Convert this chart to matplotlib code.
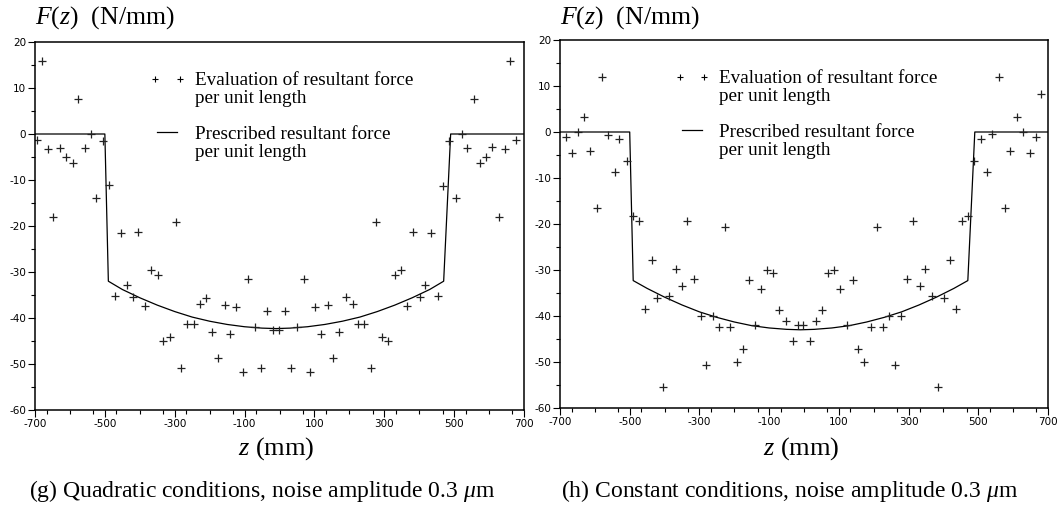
import matplotlib
matplotlib.use("Agg")
import numpy as np
import matplotlib.pyplot as plt
from matplotlib.ticker import MultipleLocator, FixedLocator
from matplotlib.lines import Line2D
from matplotlib.legend_handler import HandlerLine2D

plt.rcParams['axes.unicode_minus'] = False
plt.rcParams['mathtext.fontset'] = 'custom'
plt.rcParams['mathtext.rm'] = 'Liberation Serif'
plt.rcParams['mathtext.it'] = 'Liberation Serif:italic'

# ---- (g) quadratic conditions: evaluated points (z in mm, F in N/mm)
z_quad = [-695, -681, -662, -648, -629, -611, -592, -578, -557, -541, -526, -505,
          -488, -471, -455, -438, -419, -404, -386, -367, -348, -333, -314, -297,
          -281, -265, -246, -227, -211, -193, -175, -156, -141, -124, -104, -91,
          -71, -52, -36, -19, -2, 17, 33, 50, 69, 88, 102, 120, 139, 154, 171,
          190, 209, 224, 243, 261, 275, 294, 312, 330, 347, 364, 383, 401, 416,
          434, 453, 469, 486, 505, 522, 538, 557, 573, 590, 609, 627, 646, 659, 678]
f_quad = [-1.2, 15.9, -3.3, -18.0, -3.0, -5.0, -6.4, 7.7, -3.1, 0.0, -14.0, -1.5,
          -11.1, -35.3, -21.5, -32.9, -35.5, -21.2, -37.4, -29.6, -30.6, -45.1, -44.1, -19.1,
          -50.9, -41.3, -41.3, -36.9, -35.7, -43.0, -48.6, -37.1, -43.5, -37.6, -51.8, -31.6,
          -42.0, -50.9, -38.5, -42.6, -42.6, -38.5, -50.9, -42.0, -31.6, -51.8, -37.6, -43.5, -37.1, -48.6, -43.0,
          -35.5, -36.9, -41.3, -41.3, -50.9, -19.1, -44.1, -45.1, -30.6, -29.6, -37.4, -21.2, -35.5, -32.9,
          -21.5, -35.3, -11.3, -1.5, -14.0, 0.0, -3.1, 7.7, -6.4, -5.1, -2.8, -18.0, -3.3, 15.9, -1.4]

# prescribed force, quadratic case
zp_quad = [-700, -500, -490, -450, -400, -350, -300, -250, -200, -150, -100, -50, -10,
           30, 80, 130, 180, 230, 280, 330, 380, 430, 470, 490, 700]
fp_quad = [0, 0, -32.0, -33.8, -35.6, -37.2, -38.6, -39.8, -40.7, -41.4, -41.9, -42.2, -42.3,
           -42.2, -41.9, -41.4, -40.7, -39.8, -38.6, -37.2, -35.6, -33.8, -32.0, 0, 0]

# ---- (h) constant conditions: evaluated points
z_const = [-683, -665, -649, -631, -614, -595, -579, -561, -542, -530, -509, -491,
           -472, -456, -437, -421, -404, -386, -368, -349, -335, -316, -296, -282,
           -262, -245, -227, -212, -193, -174, -157, -140, -123, -105, -88, -71,
           -52, -32, -18, -2, 17, 33, 51, 70, 87, 103, 122, 140, 155, 173, 191,
           210, 226, 243, 262, 278, 295, 314, 333, 348, 367, 385, 402, 420, 436,
           453, 471, 488, 508, 526, 540, 560, 577, 591, 610, 629, 648, 665, 680]
f_const = [-1.0, -4.6, -0.1, 3.3, -4.1, -16.6, 11.9, -0.6, -8.8, -1.6, -6.2, -18.2,
           -19.3, -38.5, -27.8, -36.1, -55.4, -35.7, -29.7, -33.4, -19.3, -31.9, -40.1, -50.7,
           -39.9, -42.3, -20.6, -42.3, -50.1, -47.2, -32.2, -42.0, -34.2, -29.9, -30.6, -38.7,
           -41.0, -45.4, -42.0, -42.0, -45.4, -41.0, -38.7, -30.6, -29.9, -34.2, -42.0, -32.2, -47.2, -50.1, -42.3,
           -20.6, -42.3, -39.9, -50.7, -40.1, -31.9, -19.3, -33.4, -29.7, -35.7, -55.4, -36.1, -27.8, -38.5,
           -19.3, -18.2, -6.2, -1.6, -8.8, -0.5, 11.9, -16.6, -4.1, 3.3, -0.1, -4.6, -1.0, 8.2]

# prescribed force, constant case
zp_const = [-700, -500, -490, -450, -400, -350, -300, -250, -200, -150, -100, -50, -10,
            30, 80, 130, 180, 230, 280, 330, 380, 430, 470, 490, 700]
fp_const = [0, 0, -32.3, -34.0, -35.9, -37.6, -39.1, -40.3, -41.3, -42.1, -42.6, -42.9, -43.0,
            -42.9, -42.6, -42.1, -41.3, -40.3, -39.1, -37.6, -35.9, -34.0, -32.3, 0, 0]

x_ticks = [-700, -500, -300, -100, 100, 300, 500, 700]
y_ticks = [-60, -50, -40, -30, -20, -10, 0, 10, 20]
captions = ['(g) Quadratic conditions, noise amplitude 0.3 $\\mu$m',
            '(h) Constant conditions, noise amplitude 0.3 $\\mu$m']


class FirstLineHandler(HandlerLine2D):
    # legend handle drawn level with the first line of a two-line label
    def __init__(self, dy=0.0, **kw):
        super().__init__(**kw)
        self.dy = dy

    def create_artists(self, legend, orig_handle, xdescent, ydescent, width, height,
                       fontsize, trans):
        arts = super().create_artists(legend, orig_handle, xdescent, ydescent, width,
                                      height, fontsize, trans)
        for a in arts:
            a.set_ydata(np.asarray(a.get_ydata()) + self.dy * fontsize)
        return arts


serif = 'Liberation Serif'
W, H = 1062, 508
fig = plt.figure(figsize=(W / 100, H / 100), dpi=100)

panels = [
    (z_quad, f_quad, zp_quad, fp_quad, [35, 42, 489, 368], 262),
    (z_const, f_const, zp_const, fp_const, [560, 40, 488, 368], 790),
]

for (zs, fs, zp, fp, box, cap_x), cap in zip(panels, captions):
    x0, y0, w, h = box
    ax = fig.add_axes([x0 / W, 1 - (y0 + h) / H, w / W, h / H])
    ax.plot(zp, fp, color='black', lw=0.9)
    ax.plot(zs, fs, ls='none', marker='+', ms=6, mew=0.9, color='#222222')
    ax.set_xlim(-700, 700)
    ax.set_ylim(-60, 20)
    ax.xaxis.set_major_locator(FixedLocator(x_ticks))
    ax.xaxis.set_minor_locator(MultipleLocator(200 / 3))
    ax.yaxis.set_major_locator(FixedLocator(y_ticks))
    ax.yaxis.set_minor_locator(MultipleLocator(5))
    ax.tick_params(which='major', length=5, width=0.8, labelsize=7.5, pad=1.5)
    ax.tick_params(which='minor', length=3, width=0.8)
    for sp in ax.spines.values():
        sp.set_linewidth(1.1)

    h_eval = Line2D([], [], ls='none', marker='+', ms=4, mew=0.8, color='black')
    h_pres = Line2D([], [], color='black', lw=0.9)
    labels = ['Evaluation of resultant force\nper unit length',
              'Prescribed resultant force\nper unit length']
    leg = ax.legend([h_eval, h_pres], labels, loc='upper left',
                    bbox_to_anchor=(0.245, 0.918),
                    frameon=False, numpoints=2, handlelength=1.3, handletextpad=0.78,
                    borderpad=0, borderaxespad=0, labelspacing=1.0,
                    handler_map={h_eval: FirstLineHandler(dy=0.56, marker_pad=0.0),
                                 h_pres: FirstLineHandler(dy=0.56, marker_pad=0.13)},
                    prop={'family': serif, 'size': 13.8})
    for t in leg.get_texts():
        t.set_linespacing(1.05)

    fig.text(x0 / W, 1 - 24 / H, '$F$($z$)  (N/mm)', family=serif, fontsize=18.5,
             ha='left', va='baseline')
    fig.text((x0 + w / 2 - 3) / W, 1 - 455 / H, '$z$ (mm)', family=serif, fontsize=19,
             ha='center', va='baseline')
    fig.text(cap_x / W, 1 - 497 / H, cap, family=serif, fontsize=17,
             ha='center', va='baseline')

fig.savefig('out.png', dpi=100)
